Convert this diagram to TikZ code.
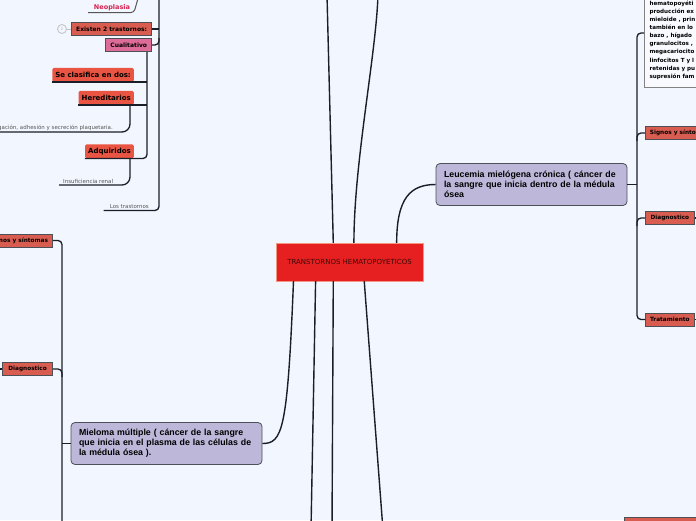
\documentclass[tikz,border=0pt]{standalone}
\usepackage{fontspec}
\usepackage{tikz}
\usetikzlibrary{positioning,calc}
\setmainfont{Liberation Sans}
\newfontfamily\verd{DejaVu Sans}
\definecolor{bgblue}{RGB}{242,246,254}
\definecolor{hemred}{RGB}{230,32,32}
\definecolor{hemedge}{RGB}{245,150,130}
\definecolor{subred}{RGB}{216,92,80}
\definecolor{brightred}{RGB}{234,84,66}
\definecolor{pinkbox}{RGB}{222,108,152}
\definecolor{lavender}{RGB}{189,183,217}
\definecolor{edgegray}{RGB}{78,80,88}
\definecolor{linedark}{RGB}{25,30,40}
\definecolor{notegray}{RGB}{85,85,85}
\definecolor{neored}{RGB}{214,36,80}
\tikzset{
    central/.style={
        rectangle,
        fill=hemred,
        draw=hemedge,
        minimum width=147pt,
        minimum height=38pt,
        text={rgb,255:red,60;green,10;blue,10},
        font=\verd\fontsize{7}{8}\selectfont
    },
    maintopic/.style={
        rectangle,
        rounded corners=4pt,
        fill=lavender,
        draw=edgegray,
        line width=0.8pt,
        minimum width=191pt,
        minimum height=42pt,
        text width=175pt,
        inner xsep=8pt,
        align=left,
        font=\bfseries\fontsize{8.8}{10}\selectfont
    },
    subtopic/.style={
        rectangle,
        fill=subred,
        draw=edgegray,
        line width=0.8pt,
        minimum height=13pt,
        inner xsep=4.5pt,
        inner ysep=1.5pt,
        font=\verd\bfseries\fontsize{5.8}{7}\selectfont
    },
    pinktopic/.style={subtopic, fill=pinkbox},
    flattopic/.style={
        rectangle,
        rounded corners=1.5pt,
        fill=brightred,
        minimum height=14pt,
        inner xsep=3pt,
        inner ysep=2pt,
        font=\verd\bfseries\fontsize{7}{8}\selectfont
    },
    note/.style={
        inner xsep=4pt,
        inner ysep=1.5pt,
        text=notegray,
        font=\verd\fontsize{5.5}{6.5}\selectfont
    },
    branch/.style={draw=linedark, line width=1.3pt, rounded corners=4pt},
    stem/.style={draw=linedark, line width=1.4pt}
}

\begin{document}
\begin{tikzpicture}[x=1pt, y=-1pt]
\useasboundingbox (0,0) rectangle (696,520);
\clip (0,0) rectangle (696,520);
\fill[bgblue] (0,0) rectangle (696,520);

% central topic
\node[central] (hemato) at (349.5,262) {TRANSTORNOS HEMATOPOYETICOS};

% main topics
\node[maintopic] (leucemia) at (531.5,184.5) {Leucemia mielógena crónica ( cáncer de\\la sangre que inicia dentro de la médula\\ósea};
\node[maintopic] (mieloma) at (166.5,443.5) {Mieloma múltiple ( cáncer de la sangre\\que inicia en el plasma de las células de\\la médula ósea ).};

% stems from the central topic
\coordinate (t1) at ($(hemato.north west)!0.39!(hemato.north east)$);
\coordinate (t2) at ($(hemato.north west)!0.53!(hemato.north east)$);
\coordinate (t3) at ($(hemato.north west)!0.82!(hemato.north east)$);
\coordinate (b1) at ($(hemato.south west)!0.12!(hemato.south east)$);
\coordinate (b2) at ($(hemato.south west)!0.27!(hemato.south east)$);
\coordinate (b3) at ($(hemato.south west)!0.39!(hemato.south east)$);
\coordinate (b4) at ($(hemato.south west)!0.60!(hemato.south east)$);
\coordinate (top1) at (327,-5);
\coordinate (top2) at (378,-5);
\coordinate (bot2) at (311,530);
\coordinate (bot3) at (332,530);
\coordinate (bot4) at (383,530);
\draw[stem] (t1) -- (top1);
\draw[stem] (t2) .. controls +(0,-80) and +(-2,60) .. (top2);
\draw[stem] (t3) .. controls +(0,-45) and +(-25,0) .. (leucemia.west);
\draw[stem] (b1) .. controls +(-6,150) and +(20,0) .. (mieloma.east);
\draw[stem] (b2) -- (bot2);
\draw[stem] (b3) -- (bot3);
\draw[stem] (b4) -- (bot4);

% right side: leucemia
\node[draw={rgb,255:red,130;green,130;blue,130}, line width=1.2pt, fill=white!50!bgblue,
      anchor=south west, align=left, inner xsep=5pt, inner ysep=8pt,
      font=\verd\bfseries\fontsize{5.6}{8.1}\selectfont] (medula) at (644,88)
    {hematopoyéti\\producción ex\\mieloide , prin\\también en lo\\bazo , hígado\\granulocitos ,\\megacariocito\\linfocitos T y l\\retenidas y pu\\supresión fam};
\node[subtopic, anchor=west, minimum width=60pt] (signosR) at (645,133) {Signos y síntomas};
\node[subtopic, anchor=west, minimum width=49pt] (diagR) at (645,218) {Diagnostico};
\node[subtopic, anchor=west, minimum width=49pt] (tratR) at (645,319.5) {Tratamiento};
\coordinate (rtop) at (637,33);
\coordinate (rend) at (700,218);
\coordinate (rend2) at (700,319.5);
\draw[branch] (medula.west |- rtop) -- (rtop) |- (tratR.west);
\draw[branch] (leucemia.east) -- (leucemia.east -| rtop);
\draw[branch] (rtop |- 0,141) |- (signosR.west);
\draw[branch] (rtop |- 0,226) |- (diagR.west);
\draw[branch] (diagR.east) -- (rend);
\draw[branch] (tratR.east) -- (rend2);

% left side: mieloma
\node[subtopic, anchor=east, minimum width=60pt] (signosL) at (53,240.5) {Signos y síntomas};
\node[subtopic, anchor=east, minimum width=50pt] (diagL) at (53,369) {Diagnostico};
\coordinate (ltrunk) at (62,530);
\coordinate (lend) at (-5,369);
\draw[branch] (signosL.east) -| (ltrunk);
\draw[branch] (ltrunk |- 0,377) |- (diagL.east);
\draw[branch] (diagL.west) -- (lend);
\draw[branch] (mieloma.west) -- (mieloma.west -| ltrunk);

% top left
\node[font=\verd\bfseries\fontsize{6.5}{8}\selectfont, text=neored, anchor=base] (neo) at (112,9) {Neoplasia};
\coordinate (neoend) at (139,-5);
\draw[notegray, line width=1pt, rounded corners=3pt] (88,12.5) -- (134,12.5) -- (neoend);
\node[subtopic, anchor=east, font=\verd\bfseries\fontsize{6}{7}\selectfont] (existen) at (152,29) {Existen 2 trastornos:};
\node[circle, draw=gray!45, line width=0.9pt, inner sep=0.5pt, minimum size=9pt,
      text=gray!70, font=\verd\fontsize{3.5}{4}\selectfont] (count) at (62,29) {2};
\draw[gray!50, line width=1pt] (count) -- (existen);
\node[pinktopic, anchor=east, font=\verd\bfseries\fontsize{6}{7}\selectfont] (cualit) at (152,45) {Cualitativo};
\node[note, anchor=south east] (lostras) at (153,210.5) {Los trastornos};
\coordinate (ltop) at (159,-5);
\draw[branch] (ltop) |- ($(lostras.south west)+(-2,0)$);
\draw[branch] (existen.east) -- (existen.east -| ltop);
\draw[branch] (cualit.east) -| (159,38);

\node[flattopic, anchor=south east] (clasif) at (134,82) {Se clasifica en dos:};
\node[flattopic, anchor=south east] (hered) at (134,105) {Hereditarios};
\node[flattopic, anchor=south east] (adq) at (134,158.5) {Adquiridos};
\coordinate (ctrunk) at (147,52);
\draw[branch] (ctrunk) |- (adq.south west);
\draw[branch] (clasif.south west) -- (clasif.south west -| ctrunk);
\draw[branch] (hered.south west) -- (hered.south west -| ctrunk);

\node[note, anchor=south east] (plaq) at (117,132) {gación, adhesión y secreción plaquetaria.};
\node[note, anchor=south west] (renal) at (59,185) {Insuficiencia renal};
\coordinate (hsub) at (130,105);
\coordinate (asub) at (130,158.5);
\coordinate (pend) at (-5,132);
\draw[branch, rounded corners=8pt] (hsub) |- (pend);
\draw[branch, rounded corners=8pt] (asub) |- (renal.south west);

% cut-off node at the bottom right
\node[subtopic, anchor=north west, minimum width=80pt, minimum height=14pt] (cutbox) at (624,516.5) {};
\end{tikzpicture}
\end{document}
